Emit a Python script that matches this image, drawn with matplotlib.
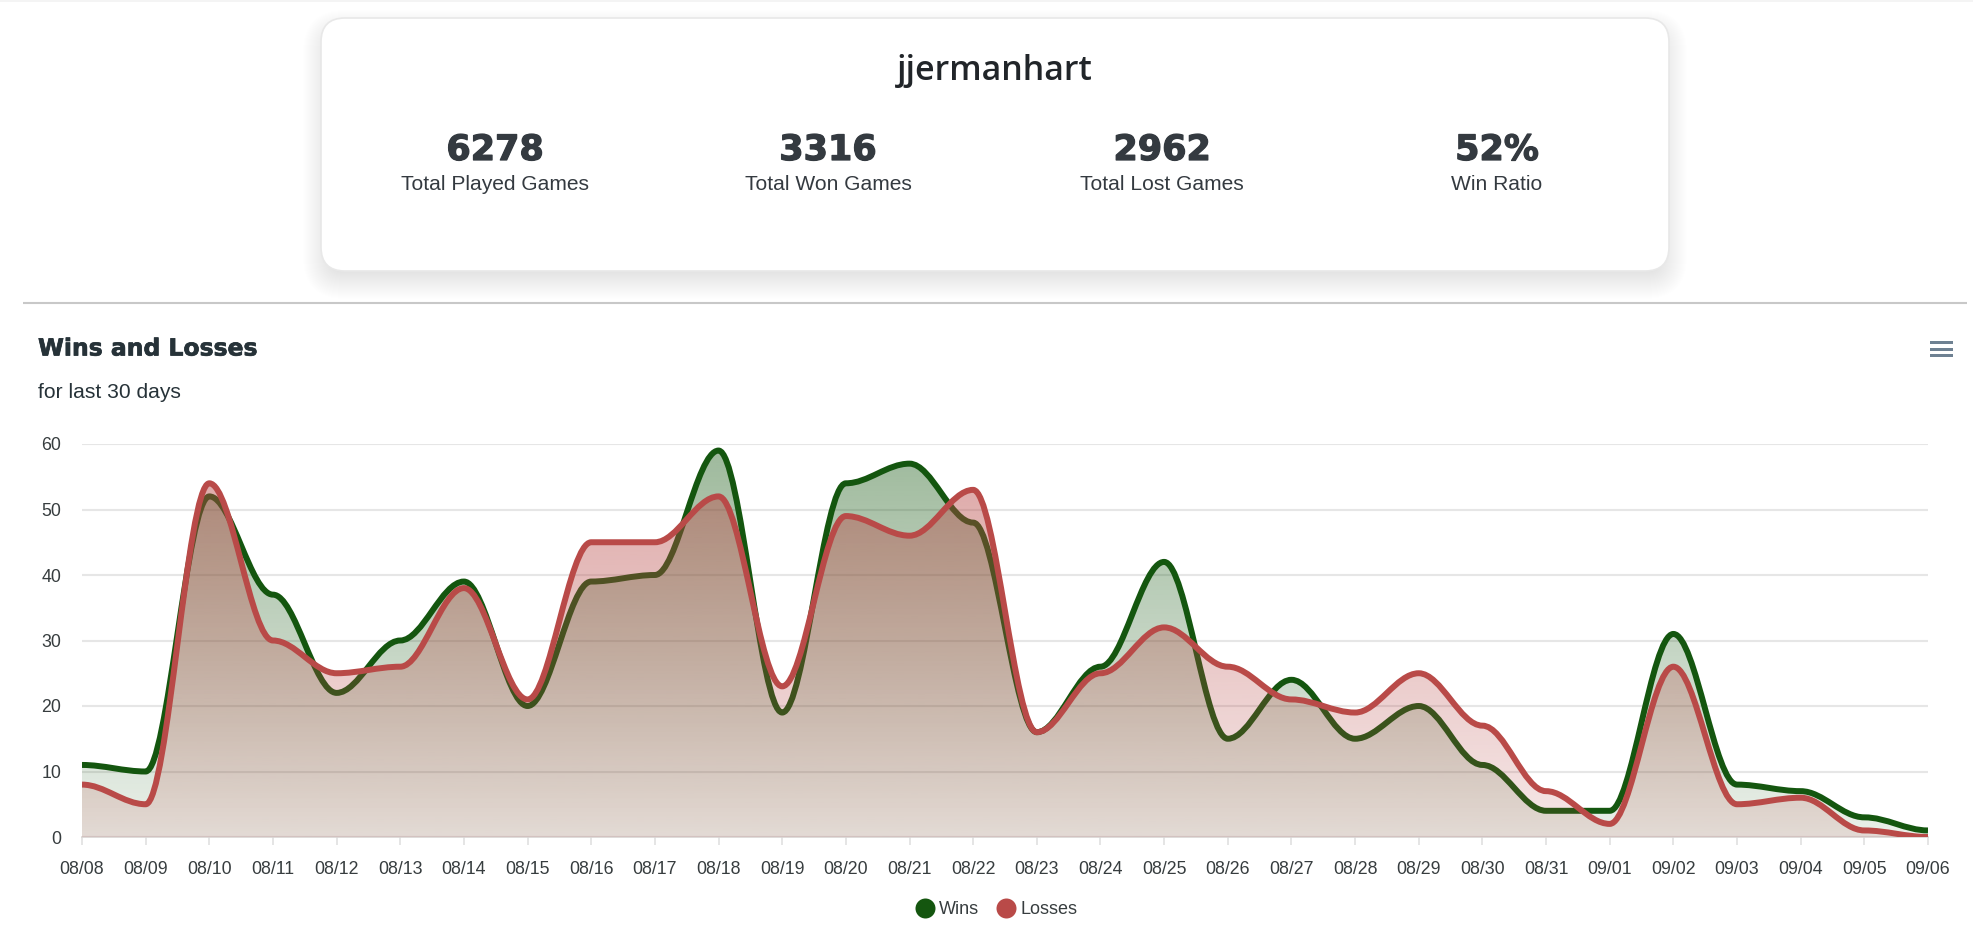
import numpy as np
import matplotlib
matplotlib.use("Agg")
import matplotlib.pyplot as plt
import matplotlib.patheffects as pe
from matplotlib.patches import FancyBboxPatch, PathPatch, Rectangle
from matplotlib.path import Path
from matplotlib.lines import Line2D
from matplotlib.colors import to_rgb

dates = ["08/08", "08/09", "08/10", "08/11", "08/12", "08/13", "08/14", "08/15", "08/16", "08/17",
         "08/18", "08/19", "08/20", "08/21", "08/22", "08/23", "08/24", "08/25", "08/26", "08/27",
         "08/28", "08/29", "08/30", "08/31", "09/01", "09/02", "09/03", "09/04", "09/05", "09/06"]
wins = [11, 10, 52, 37, 22, 30, 39, 20, 39, 40, 59, 19, 54, 57, 48, 16, 26, 42, 15, 24,
        15, 20, 11, 4, 4, 31, 8, 7, 3, 1]
losses = [8, 5, 54, 30, 25, 26, 38, 21, 45, 45, 52, 23, 49, 46, 53, 16, 25, 32, 26, 21,
          19, 25, 17, 7, 2, 26, 5, 6, 1, 0]
stat_values = ["6278", "3316", "2962", "52%"]
stat_labels = ["Total Played Games", "Total Won Games", "Total Lost Games", "Win Ratio"]

GREEN = "#14560f"
RED = "#b94a48"
TEXT = "#373d3f"
W, H = 1974, 931


def px(size):
    # css pixels to points at dpi 100
    return size * 0.72


def curve_path(values, closed=False):
    # every point gets a flat tangent, control points at 35% of the step
    verts = [(0, values[0])]
    codes = [Path.MOVETO]
    for i in range(1, len(values)):
        verts += [(i - 1 + 0.35, values[i - 1]), (i - 0.35, values[i]), (i, values[i])]
        codes += [Path.CURVE4] * 3
    if closed:
        verts += [(len(values) - 1, 0), (0, 0), (0, values[0])]
        codes += [Path.LINETO, Path.LINETO, Path.CLOSEPOLY]
    return Path(verts, codes)


def draw_series(ax, values, color, z, top_alpha, bottom_alpha):
    # gradient fill clipped to the area, then the line on top
    rgb = to_rgb(color)
    grad = np.zeros((256, 1, 4))
    grad[..., :3] = rgb
    grad[..., 3] = np.linspace(top_alpha, bottom_alpha, 256).reshape(-1, 1)
    im = ax.imshow(grad, extent=[0, len(values) - 1, 0, max(values)], origin="upper",
                   aspect="auto", zorder=z, interpolation="bilinear")
    clip = PathPatch(curve_path(values, closed=True), transform=ax.transData,
                     facecolor="none", edgecolor="none")
    ax.add_patch(clip)
    im.set_clip_path(clip)
    ax.add_patch(PathPatch(curve_path(values), facecolor="none", edgecolor=color,
                           linewidth=4.3, zorder=z + 0.5, capstyle="butt", joinstyle="round"))


fig = plt.figure(figsize=(W / 100, H / 100), dpi=100, facecolor="white")

# page layer in pixel coordinates
page = fig.add_axes([0, 0, 1, 1])
page.set_xlim(0, W)
page.set_ylim(H, 0)
page.axis("off")

# thin strip at the very top of the page
page.add_patch(Rectangle((0, 0), W, 1.5, facecolor="#f4f4f4", edgecolor="none"))

# card shadow, stacked rounded boxes so the edge fades out
for i in range(30):
    grow = 18 - i * 1.0
    page.add_patch(FancyBboxPatch((321 - grow, 18 + 10 - grow), 1348 + 2 * grow, 253 + 2 * grow,
                                  boxstyle="round,pad=0,rounding_size=%g" % max(6, 24 + grow),
                                  facecolor="black", edgecolor="none", alpha=0.0048))
page.add_patch(FancyBboxPatch((321, 18), 1348, 253, boxstyle="round,pad=0,rounding_size=24",
                              facecolor="white", edgecolor="#e8e8e8", linewidth=1.2))

page.text(995, 71, "jjermanhart", ha="center", va="center", fontsize=px(34),
          family="Open Sans", weight="semibold", color="#212529")
for cx, val, lab in zip([495, 828, 1162, 1497], stat_values, stat_labels):
    page.text(cx, 150, val, ha="center", va="center", fontsize=px(35), family="DejaVu Sans",
              weight="bold", color="#343a40",
              path_effects=[pe.withStroke(linewidth=0.9, foreground="#343a40")])
    page.text(cx, 184, lab, ha="center", va="center", fontsize=px(21), family="Liberation Sans",
              color="#343a40")

page.plot([23, 1967], [303, 303], color="#c8c8c8", linewidth=1.5, solid_capstyle="butt")

page.text(38, 349, "Wins and Losses", ha="left", va="center", fontsize=px(23.5),
          family="DejaVu Sans", weight="bold", color="#263238",
          path_effects=[pe.withStroke(linewidth=0.5, foreground="#263238")])
page.text(38, 392, "for last 30 days", ha="left", va="center", fontsize=px(21),
          family="Liberation Sans", color="#263238")

# hamburger menu
for y in [342, 349, 355]:
    page.add_patch(Rectangle((1930, y - 1.5), 23, 3, facecolor="#6e8192", edgecolor="none"))

# legend
for cx, lx, label, color in [(925, 939, "Wins", GREEN), (1006, 1020, "Losses", RED)]:
    page.add_line(Line2D([cx], [907.5], marker="o", markersize=14.4, color=color, markeredgewidth=0))
    page.text(lx, 909, label, ha="left", va="center", fontsize=px(18), family="Liberation Sans", color=TEXT)

# chart
x0, x1 = 82, 1928
y_top, y_bottom = 444, 837
ax = fig.add_axes([x0 / W, 1 - y_bottom / H, (x1 - x0) / W, (y_bottom - y_top) / H])
ax.patch.set_alpha(0)

draw_series(ax, wins, GREEN, 2, 0.41, 0.09)
draw_series(ax, losses, RED, 3, 0.46, 0.13)

ax.set_xlim(0, len(dates) - 1)
ax.set_ylim(0, 60)
ax.set_xticks(range(len(dates)))
ax.set_xticklabels(dates, family="Liberation Sans", fontsize=px(17.8), color=TEXT)
ax.set_yticks(range(0, 61, 10))
ax.set_yticklabels([str(v) for v in range(0, 61, 10)], family="Liberation Sans",
                   fontsize=px(17.8), color=TEXT)
ax.grid(axis="y", color="#e6e6e6", linewidth=1.5, zorder=0)
ax.set_axisbelow(True)
ax.tick_params(axis="x", length=6, width=1.2, color="#e0e0e0", pad=11)
ax.tick_params(axis="y", length=0, pad=15)
for side in ["top", "right", "left"]:
    ax.spines[side].set_visible(False)
ax.spines["bottom"].set_color("#d8d4d2")
ax.spines["bottom"].set_linewidth(1.2)

fig.savefig("out.png", dpi=100)
